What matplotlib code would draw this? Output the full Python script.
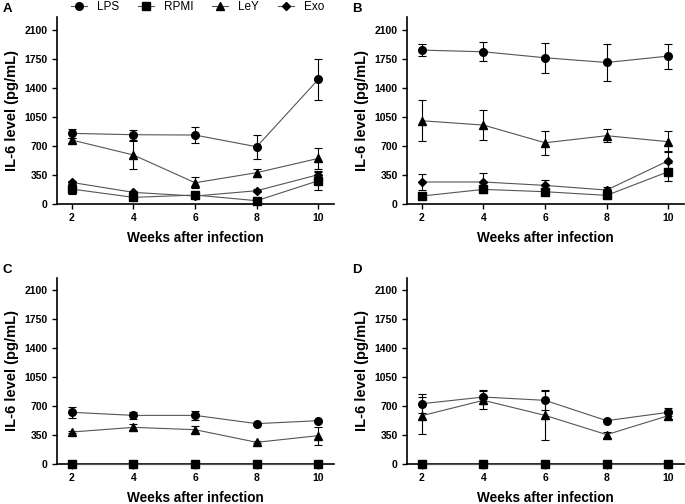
import matplotlib
matplotlib.use("Agg")
import matplotlib.pyplot as plt
from matplotlib.lines import Line2D

plt.rcParams['font.family'] = ['Liberation Sans', 'DejaVu Sans']

weeks = [2, 4, 6, 8, 10]
series_names = ["LPS", "RPMI", "LeY", "Exo"]
markers = {"LPS": "o", "RPMI": "s", "LeY": "^", "Exo": "D"}

# panel A
a_lps = [850, 834, 830, 689, 1500]
a_lps_err = [55, 60, 95, 145, 245]
a_rpmi = [180, 80, 108, 40, 280]
a_rpmi_err = [60, 20, 20, 15, 110]
a_ley = [770, 590, 256, 377, 549]
a_ley_err = [30, 170, 65, 50, 130]
a_exo = [260, 140, 96, 160, 353]
a_exo_err = [20, 20, 15, 15, 40]

# panel B
b_lps = [1852, 1832, 1760, 1703, 1780]
b_lps_err = [70, 115, 180, 220, 150]
b_rpmi = [96, 176, 148, 104, 389]
b_rpmi_err = [20, 40, 40, 30, 110]
b_ley = [1002, 950, 737, 822, 750]
b_ley_err = [245, 180, 145, 80, 130]
b_exo = [265, 265, 224, 168, 521]
b_exo_err = [95, 105, 70, 40, 120]

# panel C
c_lps = [625, 588, 588, 488, 524]
c_lps_err = [70, 45, 55, 10, 10]
c_rpmi = [0, 0, 0, 0, 0]
c_rpmi_err = [0, 0, 0, 0, 0]
c_ley = [387, 443, 415, 262, 343]
c_ley_err = [10, 35, 45, 10, 110]
c_exo = [0, 0, 0, 0, 0]
c_exo_err = [0, 0, 0, 0, 0]

# panel D
d_lps = [729, 810, 770, 524, 625]
d_lps_err = [115, 90, 120, 10, 50]
d_rpmi = [0, 0, 0, 0, 0]
d_rpmi_err = [0, 0, 0, 0, 0]
d_ley = [584, 770, 588, 355, 584]
d_ley_err = [225, 110, 300, 35, 40]
d_exo = [0, 0, 0, 0, 0]
d_exo_err = [0, 0, 0, 0, 0]

panels = {
    "A": [(a_lps, a_lps_err), (a_rpmi, a_rpmi_err), (a_ley, a_ley_err), (a_exo, a_exo_err)],
    "B": [(b_lps, b_lps_err), (b_rpmi, b_rpmi_err), (b_ley, b_ley_err), (b_exo, b_exo_err)],
    "C": [(c_lps, c_lps_err), (c_rpmi, c_rpmi_err), (c_ley, c_ley_err), (c_exo, c_exo_err)],
    "D": [(d_lps, d_lps_err), (d_rpmi, d_rpmi_err), (d_ley, d_ley_err), (d_exo, d_exo_err)],
}
yticks = [0, 350, 700, 1050, 1400, 1750, 2100]

fig = plt.figure(figsize=(6.85, 5.04), dpi=100)
positions = {
    "A": [0.0828, 0.5952, 0.4044, 0.3710],
    "B": [0.5937, 0.5952, 0.4044, 0.3710],
    "C": [0.0828, 0.0794, 0.4044, 0.3690],
    "D": [0.5937, 0.0794, 0.4044, 0.3690],
}

def msize(s):
    return 5.5 if markers[s] != "D" else 4.5

for name, data in panels.items():
    ax = fig.add_axes(positions[name])
    for sname, (vals, errs) in zip(series_names, data):
        ax.errorbar(weeks, vals, yerr=errs, color="#555555", lw=0.8,
                    marker=markers[sname], ms=msize(sname), mfc="black", mec="black",
                    ecolor="black", elinewidth=0.8, capsize=2.6, capthick=0.8,
                    clip_on=False, zorder=3)
    ax.set_xlim(1.51, 10.5)
    ax.set_ylim(0, 2250)
    ax.set_xticks(weeks)
    ax.set_yticks(yticks)
    ax.spines['top'].set_visible(False)
    ax.spines['right'].set_visible(False)
    ax.spines['left'].set_linewidth(1.2)
    ax.spines['bottom'].set_linewidth(1.2)
    ax.tick_params(direction="out", length=3.5, width=1, labelsize=7.5, pad=3)
    for lab in ax.get_xticklabels() + ax.get_yticklabels():
        lab.set_fontweight("bold")
    ax.set_ylabel("IL-6 level (pg/mL)", fontsize=10.5, fontweight="bold", labelpad=4)
    ax.set_xlabel("Weeks after infection", fontsize=9.8, fontweight="bold", labelpad=6)
    fig.text(positions[name][0] - 0.079, positions[name][1] + positions[name][3] + 0.004,
             name, fontsize=9.5, fontweight="bold", va="bottom", ha="left")

handles = [Line2D([0], [0], color="#555555", lw=0.8, marker=markers[s],
                  ms=msize(s), mfc="black", mec="black")
           for s in series_names]
fig.legend(handles, series_names, loc="center", bbox_to_anchor=(0.288, 0.986),
           ncol=4, frameon=False, fontsize=8.5, handlelength=1.4, columnspacing=1.6,
           handletextpad=0.8, borderpad=0.1)

fig.savefig("out.png", dpi=100)
